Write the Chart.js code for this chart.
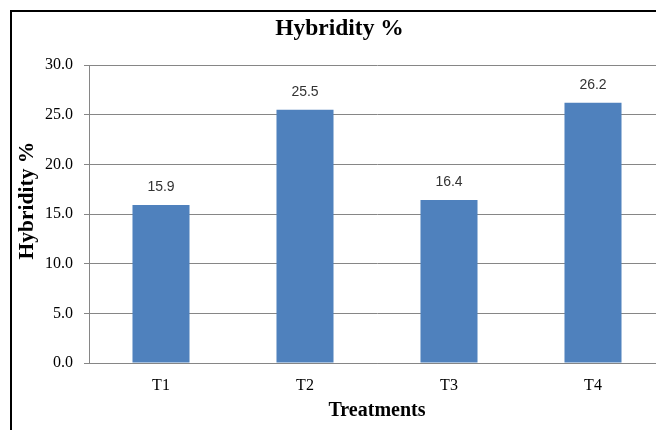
<!DOCTYPE html>
<html>
<head>
<meta charset="utf-8">
<script src="https://cdn.jsdelivr.net/npm/chart.js@4/dist/chart.umd.min.js"></script>
<style>
  html, body { margin: 0; padding: 0; background: #fff; overflow: hidden; }
  #wrap { position: relative; width: 656px; height: 430px; overflow: hidden; background: #fff; }
  #c { position: absolute; left: 0; top: 0; }
  #frame { position: absolute; left: 10px; top: 10px; width: 720px; height: 500px; border: 2px solid #000; box-sizing: border-box; pointer-events: none; }
</style>
</head>
<body>
<div id="wrap">
  <canvas id="c" width="680" height="430"></canvas>
  <div id="frame"></div>
</div>
<script>
const categories = ['T1', 'T2', 'T3', 'T4'];
const hybridity = [15.9, 25.5, 16.4, 26.2];
const yTicks = [0, 5, 10, 15, 20, 25, 30];

const valueLabels = {
  id: 'valueLabels',
  afterDatasetsDraw(chart) {
    const ctx = chart.ctx;
    const meta = chart.getDatasetMeta(0);
    ctx.save();
    ctx.font = '14px "Liberation Sans", Arial, sans-serif';
    ctx.fillStyle = '#333333';
    ctx.textAlign = 'center';
    ctx.textBaseline = 'middle';
    meta.data.forEach((bar, i) => {
      ctx.fillText(hybridity[i].toFixed(1), bar.x, bar.y - 18);
    });
    ctx.restore();
  }
};

const serif = '"Liberation Serif", "Times New Roman", serif';

new Chart(document.getElementById('c'), {
  type: 'bar',
  data: {
    labels: categories,
    datasets: [{
      data: hybridity,
      backgroundColor: '#4F81BD',
      borderWidth: 0,
      barPercentage: 0.396,
      categoryPercentage: 1.0
    }]
  },
  options: {
    responsive: false,
    animation: false,
    devicePixelRatio: 1,
    layout: { padding: { left: 14, right: 15, top: 0, bottom: 0 } },
    plugins: {
      legend: { display: false },
      tooltip: { enabled: false },
      title: {
        display: true,
        text: 'Hybridity %',
        color: '#000',
        font: { family: serif, size: 23.5, weight: 'bold', lineHeight: 1.2 },
        padding: { top: 15, bottom: 21.8 }
      }
    },
    scales: {
      x: {
        afterFit(scale) { scale.height = 67; },
        grid: { display: false, drawTicks: false },
        border: { display: true, color: '#868686', width: 1 },
        ticks: {
          color: '#000',
          padding: 13,
          font: { family: serif, size: 16 }
        },
        title: {
          display: true,
          text: 'Treatments',
          color: '#000',
          font: { family: serif, size: 20, weight: 'bold', lineHeight: 1.2 },
          padding: { top: 0, bottom: 7 }
        }
      },
      y: {
        min: 0,
        max: 30,
        afterFit(scale) { scale.width = 75; },
        afterBuildTicks(scale) { scale.ticks = yTicks.map(v => ({ value: v })); },
        grid: { color: '#868686', lineWidth: 1, drawTicks: true, tickLength: 5, tickColor: '#868686' },
        border: { display: true, color: '#868686', width: 1 },
        ticks: {
          color: '#000',
          padding: 11,
          font: { family: serif, size: 16 },
          callback: (v) => Number(v).toFixed(1)
        },
        title: {
          display: true,
          text: '\u00a0\u00a0\u00a0\u00a0\u00a0Hybridity %',
          color: '#000',
          font: { family: serif, size: 21.5, weight: 'bold', lineHeight: 1.2 },
          padding: { top: 1, bottom: 0 }
        }
      }
    }
  },
  plugins: [valueLabels]
});
</script>
</body>
</html>
